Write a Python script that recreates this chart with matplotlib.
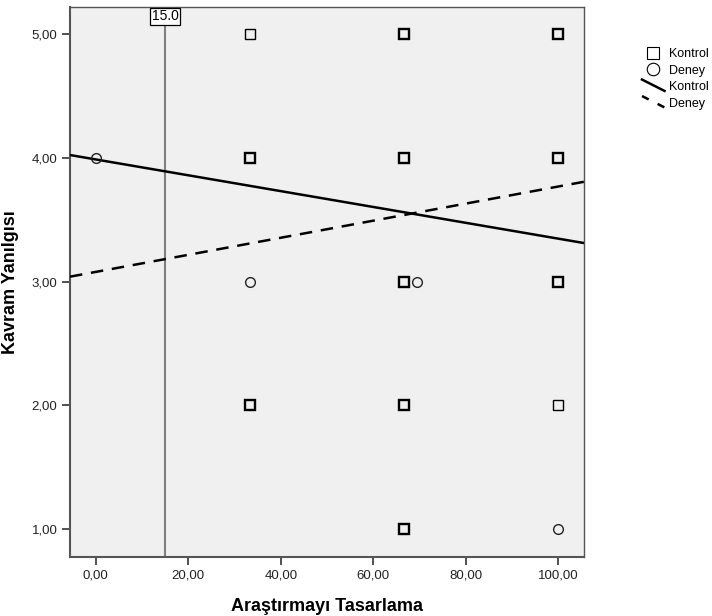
import matplotlib
matplotlib.use('Agg')
import matplotlib.pyplot as plt
from matplotlib.legend_handler import HandlerLine2D
from matplotlib.lines import Line2D
from matplotlib.ticker import FuncFormatter
import numpy as np

plt.rcParams['font.family'] = ['Liberation Sans', 'DejaVu Sans']

# Kontrol group (squares): x, y, number of overlapping cases
kontrol_x = [33.33, 33.33, 33.33, 66.67, 66.67, 66.67, 66.67, 66.67, 100, 100, 100, 100]
kontrol_y = [5, 4, 2, 5, 4, 3, 2, 1, 5, 4, 3, 2]
kontrol_n = [1, 3, 2, 3, 3, 3, 2, 3, 3, 3, 3, 1]

# Deney group (circles) visible on their own
deney_x = [0, 33.33, 69.4, 100]
deney_y = [4, 3, 3, 1]

# fit lines: intercept, slope
kontrol_fit = (3.987, -0.0064)
deney_fit = (3.078, 0.0069)

ref_x = 15.0
x_ticks = [0, 20, 40, 60, 80, 100]
y_ticks = [1, 2, 3, 4, 5]


class DiagonalHandler(HandlerLine2D):
    def create_artists(self, legend, orig_handle, xdescent, ydescent,
                       width, height, fontsize, trans):
        line = Line2D([-xdescent, -xdescent + width],
                      [height * 1.2 - ydescent, -ydescent - height * 0.1])
        self.update_prop(line, orig_handle, legend)
        line.set_transform(trans)
        return [line]


fig = plt.figure(figsize=(7.12, 6.16), dpi=100)
ax = fig.add_axes([0.0983, 0.0958, 0.7219, 0.8929])
ax.set_facecolor('#f0f0f0')

ax.set_xlim(-5.6, 105.6)
ax.set_ylim(0.773, 5.22)

xs = np.array(ax.get_xlim())
ax.plot(xs, kontrol_fit[0] + kontrol_fit[1] * xs, color='black', lw=1.8,
        solid_capstyle='butt', zorder=3)
ax.plot(xs, deney_fit[0] + deney_fit[1] * xs, color='black', lw=1.8,
        dashes=(5, 3.5), zorder=3)

ax.axvline(ref_x, color='#7f7f7f', lw=1.5, zorder=2)
ax.text(ref_x, 5.2, f'{ref_x:.1f}', ha='center', va='top', fontsize=10,
        bbox=dict(boxstyle='square,pad=0.12', fc='white', ec='black', lw=0.9),
        zorder=5)

for x, y, n in zip(kontrol_x, kontrol_y, kontrol_n):
    ax.plot(x, y, marker='s', ms=7, mfc='none', mec='black',
            mew=1.0 if n == 1 else 1.7, ls='none', zorder=4)
ax.plot(deney_x, deney_y, marker='o', ms=7, mfc='none', mec='#222222',
        mew=1.0, ls='none', zorder=4)

fmt = FuncFormatter(lambda v, p: f'{v:.2f}'.replace('.', ','))
ax.set_xticks(x_ticks)
ax.set_yticks(y_ticks)
ax.xaxis.set_major_formatter(fmt)
ax.yaxis.set_major_formatter(fmt)
ax.tick_params(direction='out', length=6, width=1.2, color='#333333',
               labelsize=9.5, labelcolor='#222222', pad=3)
for s in ax.spines.values():
    s.set_color('#555555')
    s.set_linewidth(1.0)
ax.spines['left'].set_linewidth(1.5)
ax.spines['bottom'].set_linewidth(1.5)

ax.set_xlabel('Araştırmayı Tasarlama', fontsize=13, fontweight='bold', labelpad=12)
ax.set_ylabel('Kavram Yanılgısı', fontsize=13, fontweight='bold', labelpad=9)

handles = [
    Line2D([], [], marker='s', ms=9, mfc='none', mec='black', mew=0.8, ls='none'),
    Line2D([], [], marker='o', ms=9, mfc='none', mec='black', mew=0.8, ls='none'),
    Line2D([], [], color='black', lw=1.8),
    Line2D([], [], color='black', lw=1.8, dashes=(3, 4)),
]
labels = ['Kontrol', 'Deney', 'Kontrol', 'Deney']
fig.legend(handles, labels, loc='upper left', bbox_to_anchor=(0.9017, 0.922),
           frameon=False, fontsize=9, handlelength=1.8, handletextpad=0.35,
           labelspacing=0.36, borderaxespad=0, borderpad=0,
           handler_map={handles[2]: DiagonalHandler(), handles[3]: DiagonalHandler()})

fig.savefig('out.png', dpi=100)
